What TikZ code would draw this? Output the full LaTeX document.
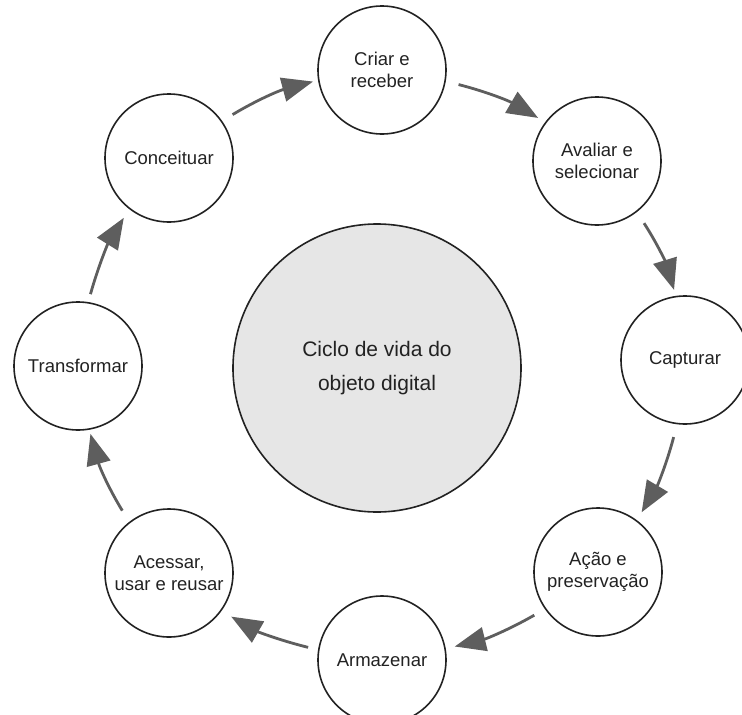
\documentclass[tikz,border=0pt]{standalone}
\usepackage{fontspec}
\setmainfont{Liberation Sans}
\usetikzlibrary{arrows.meta}
\definecolor{ink}{HTML}{222222}
\definecolor{arrowgray}{HTML}{5E5E5E}
\definecolor{hubfill}{HTML}{E6E6E6}
\tikzset{
  stage/.style={circle, draw=ink, line width=1.6pt, minimum size=128pt, inner sep=0pt, outer sep=0pt,
    text=ink, align=center, font=\fontsize{18.5pt}{22pt}\selectfont},
  hub/.style={circle, draw=ink, line width=1.6pt, fill=hubfill, minimum size=288pt, inner sep=0pt, outer sep=0pt,
    text=ink, align=center, font=\fontsize{21pt}{34pt}\selectfont},
  flow/.style={draw=arrowgray, line width=2.8pt, -{Triangle[length=31pt,width=24pt]}, bend left=8}
}
\begin{document}
\begin{tikzpicture}[x=1pt,y=1pt]
\useasboundingbox (0,0) rectangle (742,-715);
\clip (0,0) rectangle (742,-715);
\node[hub] (hub) at (377,-368) {Ciclo de vida do\\objeto digital};
\node[stage] (criar) at (382,-70) {Criar e\\receber};
\node[stage] (aval) at (597,-161) {Avaliar e\\selecionar};
\node[stage] (capt) at (685,-360) {Capturar};
\node[stage] (acao) at (598,-572) {Ação e\\preservação};
\node[stage] (arm) at (382,-660) {Armazenar};
\node[stage] (aces) at (169,-573) {Acessar,\\usar e reusar};
\node[stage] (trans) at (78,-366) {Transformar};
\node[stage] (conc) at (169,-158) {Conceituar};
\draw[flow, shorten <=13pt, shorten >=6pt] (conc.35) to (criar.189);
\draw[flow, shorten <=14pt, shorten >=9pt] (criar.-10) to (aval.143);
\draw[flow, shorten <=14pt, shorten >=7pt] (aval.-52) to (capt.98);
\draw[flow, shorten <=14pt, shorten >=10pt] (capt.-97) to (acao.53);
\draw[flow, shorten <=13pt, shorten >=10pt] (acao.215) to (arm.10);
\draw[flow, shorten <=11pt, shorten >=12pt] (arm.171) to (aces.-36);
\draw[flow, shorten <=14pt, shorten >=5pt] (aces.128) to (trans.-80);
\draw[flow, shorten <=9pt, shorten >=11pt] (trans.81) to (conc.232);
\end{tikzpicture}
\end{document}
